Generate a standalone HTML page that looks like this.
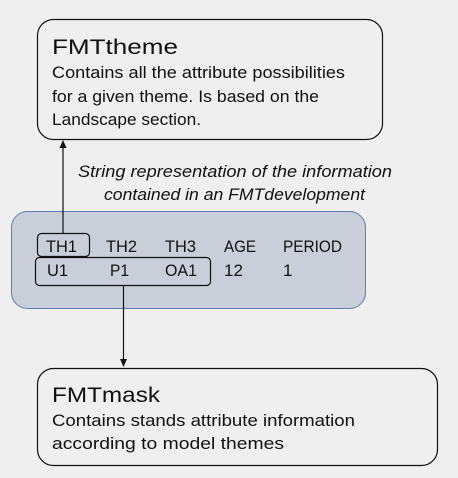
<!DOCTYPE html>
<html><head><style>
html,body{margin:0;padding:0;background:#efefef;}
text{font-family:"Liberation Sans",sans-serif;fill:#111;}
</style></head><body>
<svg width="458" height="473" viewBox="0 0 458 473" xmlns="http://www.w3.org/2000/svg">
<rect x="0" y="0" width="458" height="473" fill="#efefef"/>
<rect x="37.5" y="19.5" width="345" height="120" rx="16" fill="#efefef" stroke="#111" stroke-width="1.2"/>
<text x="52" y="54" font-size="21" textLength="126" lengthAdjust="spacingAndGlyphs">FMTtheme</text>
<text x="52" y="78" font-size="16.5" textLength="293" lengthAdjust="spacingAndGlyphs">Contains all the attribute possibilities</text>
<text x="52" y="102" font-size="16.5" textLength="267" lengthAdjust="spacingAndGlyphs">for a given theme. Is based on the</text>
<text x="52" y="125" font-size="16.5" textLength="149" lengthAdjust="spacingAndGlyphs">Landscape section.</text>
<text x="78" y="177" font-size="16.5" font-style="italic" textLength="314" lengthAdjust="spacingAndGlyphs">String representation of the information</text>
<text x="104" y="200" font-size="16.5" font-style="italic" textLength="261" lengthAdjust="spacingAndGlyphs">contained in an FMTdevelopment</text>
<rect x="11.5" y="211.5" width="354" height="97" rx="16" fill="#c9ced9" stroke="#5a7fb0" stroke-width="1"/>
<line x1="63" y1="233" x2="63" y2="146" stroke="#111" stroke-width="1.2"/>
<polygon points="63,140 59.5,148 66.5,148" fill="#111"/>
<rect x="37.5" y="233.5" width="52" height="23" rx="4" fill="none" stroke="#111" stroke-width="1.2"/>
<rect x="35.5" y="257.5" width="175" height="28" rx="4" fill="none" stroke="#111" stroke-width="1.2"/>
<line x1="123.5" y1="286" x2="123.5" y2="360" stroke="#111" stroke-width="1.2"/>
<polygon points="123.5,367 120,359 127,359" fill="#111"/>
<g font-size="17">
<text x="46" y="252" textLength="31" lengthAdjust="spacingAndGlyphs">TH1</text>
<text x="106" y="252" textLength="31" lengthAdjust="spacingAndGlyphs">TH2</text>
<text x="165" y="252" textLength="31" lengthAdjust="spacingAndGlyphs">TH3</text>
<text x="224" y="252" textLength="32" lengthAdjust="spacingAndGlyphs">AGE</text>
<text x="283" y="252" textLength="59" lengthAdjust="spacingAndGlyphs">PERIOD</text>
<text x="47" y="276" textLength="21" lengthAdjust="spacingAndGlyphs">U1</text>
<text x="110" y="276" textLength="19" lengthAdjust="spacingAndGlyphs">P1</text>
<text x="165" y="276" textLength="32" lengthAdjust="spacingAndGlyphs">OA1</text>
<text x="224" y="276" textLength="19" lengthAdjust="spacingAndGlyphs">12</text>
<text x="283" y="276">1</text>
</g>
<rect x="37.5" y="368.5" width="400" height="97" rx="16" fill="#efefef" stroke="#111" stroke-width="1.2"/>
<text x="52" y="402" font-size="21" textLength="108" lengthAdjust="spacingAndGlyphs">FMTmask</text>
<text x="52" y="426" font-size="16.5" textLength="303" lengthAdjust="spacingAndGlyphs">Contains stands attribute information</text>
<text x="52" y="449" font-size="16.5" textLength="232" lengthAdjust="spacingAndGlyphs">according to model themes</text>
</svg>
</body></html>
